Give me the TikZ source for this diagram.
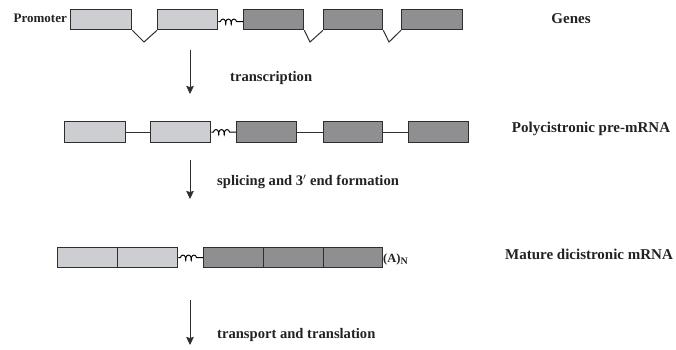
\documentclass[tikz,border=0pt]{standalone}
\usepackage{fontspec}
\setmainfont{Liberation Serif}
\usetikzlibrary{decorations.pathmorphing,arrows.meta}
\definecolor{exonlight}{HTML}{CDCED1}
\definecolor{exondark}{HTML}{8F8F92}
\definecolor{edge}{HTML}{2E2E2E}
\definecolor{ink}{HTML}{222222}
\tikzset{
  exon/.style={draw=edge, line width=1.3pt, rectangle, inner sep=0pt, anchor=north west, minimum height=20pt},
  lightexon/.style={exon, fill=exonlight},
  darkexon/.style={exon, fill=exondark},
  intron/.style={draw=edge, line width=1pt},
  linker/.style={draw=black, line width=1pt, decorate,
    decoration={coil, amplitude=2.6pt, segment length=5.5pt, pre length=2pt, post length=1pt}},
  steparrow/.style={draw=edge, line width=0.7pt, -{Stealth[length=8pt,width=7.5pt,inset=1pt]}},
  label/.style={text=ink, font=\bfseries\fontsize{14.6}{16}\selectfont, inner sep=0pt},
  sidelabel/.style={label, font=\bfseries\fontsize{15}{17}\selectfont},
}
\begin{document}
\begin{tikzpicture}[x=1pt,y=-1pt]
\useasboundingbox (0,0) rectangle (676,349);

% genes
\node[label, anchor=east, font=\bfseries\fontsize{13}{14}\selectfont] (prom) at (67,18) {Promoter};
\node[lightexon, minimum width=61pt] (g1) at (70,9) {};
\node[lightexon, minimum width=60pt] (g2) at (157,9) {};
\node[darkexon, minimum width=60pt] (g3) at (243,9) {};
\node[darkexon, minimum width=59pt] (g4) at (323,9) {};
\node[darkexon, minimum width=61pt] (g5) at (401,9) {};
\coordinate (n1) at (144,42);
\coordinate (n2) at (310,42);
\coordinate (n3) at (389,42);
\draw[intron] (g1.south east) -- (n1) -- (g2.south west);
\draw[intron] (g3.south east) -- (n2) -- (g4.south west);
\draw[intron] (g4.south east) -- (n3) -- (g5.south west);
\draw[linker] ([yshift=-2pt]g2.east) -- ([yshift=-2pt]g3.west);
\node[sidelabel] (genes) at (571,19) {Genes};

% transcription
\coordinate (a1s) at (190,50);
\coordinate (a1e) at (190,94);
\draw[steparrow] (a1s) -- (a1e);
\node[label, anchor=west] (tr) at (230,78) {transcription};

% pre-mRNA
\node[lightexon, minimum width=61pt, minimum height=21pt] (p1) at (64,121) {};
\node[lightexon, minimum width=60pt, minimum height=21pt] (p2) at (150,121) {};
\node[darkexon, minimum width=60pt, minimum height=21pt] (p3) at (236,121) {};
\node[darkexon, minimum width=59pt, minimum height=21pt] (p4) at (323,121) {};
\node[darkexon, minimum width=60pt, minimum height=21pt] (p5) at (408,121) {};
\draw[intron] (p1.east) -- (p2.west);
\draw[intron] (p3.east) -- (p4.west);
\draw[intron] (p4.east) -- (p5.west);
\draw[linker] (p2.east) -- (p3.west);
\node[sidelabel] (pre) at (591,129) {Polycistronic pre-mRNA};

% splicing
\coordinate (a2s) at (190,160);
\coordinate (a2e) at (190,199);
\draw[steparrow] (a2s) -- (a2e);
\node[label, anchor=west] (sp) at (217,182) {splicing and 3$'$ end formation};

% mature mRNA
\node[lightexon, minimum width=60pt] (m1) at (57,247) {};
\node[lightexon, minimum width=60pt] (m2) at (117,247) {};
\node[darkexon, minimum width=60pt] (m3) at (203,247) {};
\node[darkexon, minimum width=60pt] (m4) at (263,247) {};
\node[darkexon, minimum width=59pt] (m5) at (323,247) {};
\draw[linker] (m2.east) -- (m3.west);
\node[label, anchor=south west, font=\bfseries\fontsize{12.5}{14}\selectfont] (polyA) at (383,265) {(A)$_{\hbox{\fontsize{10}{11}\selectfont\bfseries N}}$};
\node[sidelabel] (mat) at (589,254) {Mature dicistronic mRNA};

% transport
\coordinate (a3s) at (190,300);
\coordinate (a3e) at (190,345);
\draw[steparrow] (a3s) -- (a3e);
\node[label, anchor=west] (tt) at (217,335) {transport and translation};
\end{tikzpicture}
\end{document}
